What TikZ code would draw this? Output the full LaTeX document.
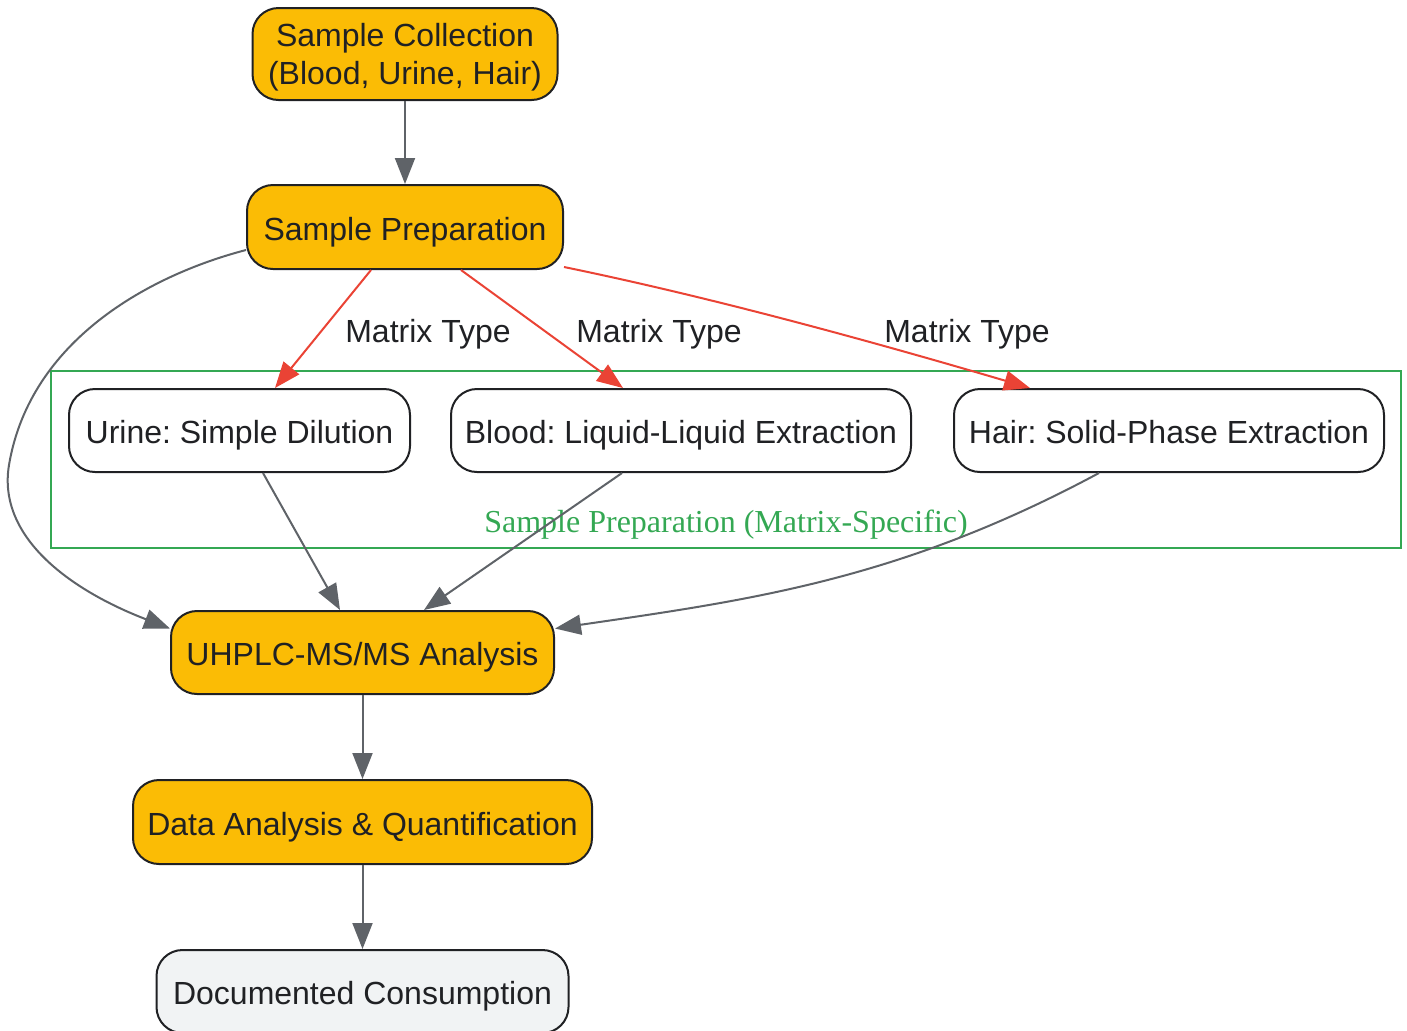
\documentclass[tikz,border=0pt]{standalone}
\usepackage{fontspec}
\setmainfont{Liberation Sans}
\newfontfamily\clusterfont{Liberation Serif}
\usetikzlibrary{arrows.meta,calc}
\definecolor{nodefill}{HTML}{FBBC05}
\definecolor{docfill}{HTML}{F1F3F4}
\definecolor{txt}{HTML}{202124}
\definecolor{edgegray}{HTML}{5F6368}
\definecolor{edgered}{HTML}{EA4335}
\definecolor{clgreen}{HTML}{34A853}
\tikzset{
  box/.style={draw=txt, line width=1pt, rounded corners=13pt, text=txt,
    font=\fontsize{16}{19}\selectfont\frenchspacing, align=center, inner sep=0pt,
    text height=15pt, text depth=2pt},
  mainbox/.style={box, fill=nodefill},
  subbox/.style={box, fill=white},
  docbox/.style={box, fill=docfill},
  flow/.style={draw=edgegray, line width=1pt, -{Triangle[length=13pt,width=10pt]}},
  redflow/.style={draw=edgered, line width=1pt, -{Triangle[length=13pt,width=10pt]}},
  elabel/.style={text=txt, font=\fontsize{16}{18}\selectfont, inner sep=0pt},
  cluster/.style={draw=clgreen, line width=1pt},
}
\begin{document}
\begin{tikzpicture}[x=0.5pt,y=-0.5pt]
\useasboundingbox (0,0) rectangle (1407,1030);
% cluster
\draw[cluster] (51,371) rectangle (1401,548);
\node[text=clgreen, font=\clusterfont\fontsize{16}{18}\selectfont, inner sep=0pt] (cllabel) at (726,525) {Sample Preparation (Matrix-Specific)};
% nodes
\node[mainbox, minimum width=152.5pt, minimum height=46pt, text height=, text depth=] (coll) at (405,54) {\rule{0pt}{15pt}Sample Collection\\(Blood, Urine, Hair)};
\node[mainbox, minimum width=158pt, minimum height=42pt] (prep) at (405,227) {Sample Preparation};
\node[subbox, minimum width=170.5pt, minimum height=41.5pt] (urine) at (239.5,430.5) {Urine: Simple Dilution};
\node[subbox, minimum width=230pt, minimum height=41.5pt] (blood) at (681,430.5) {Blood: Liquid-Liquid Extraction};
\node[subbox, minimum width=215pt, minimum height=41.5pt] (hair) at (1169,430.5) {Hair: Solid-Phase Extraction};
\node[mainbox, minimum width=191.5pt, minimum height=41.5pt] (uhplc) at (362.5,652.5) {UHPLC-MS/MS Analysis};
\node[mainbox, minimum width=229.5pt, minimum height=42pt] (data) at (362.5,822) {Data Analysis \& Quantification};
\node[docbox, minimum width=206pt, minimum height=41.5pt] (doc) at (362.5,991.5) {Documented Consumption};
% edge labels
\node[elabel] (l1) at (428,334) {Matrix Type};
\node[elabel] (l2) at (659,334) {Matrix Type};
\node[elabel] (l3) at (967,334) {Matrix Type};
% edges
\draw[flow] (coll.south) -- (prep.north);
\draw[redflow] ($(prep.south)+(-34,0)$) -- ($(urine.north)+(35.5,0)$);
\draw[redflow] ($(prep.south)+(56,0)$) -- ($(blood.north)+(-58,0)$);
\draw[redflow] ($(prep.south east)+(0,-3)$) .. controls (700,295) and (850,335) .. ($(hair.north)+(-139,0)$);
\draw[flow] ($(prep.west)+(0,23)$) .. controls (150,275) and (30,340) .. (9,465) .. controls (-3,537) and (70,590) .. ($(uhplc.west)+(0,-24)$);
\draw[flow] ($(urine.south)+(23.5,0)$) -- ($(uhplc.north)+(-22.5,0)$);
\draw[flow] ($(blood.south)+(-59,0)$) -- ($(uhplc.north)+(61.5,0)$);
\draw[flow] ($(hair.south)+(-70,0)$) .. controls (900,580) and (750,600) .. ($(uhplc.east)+(0,-24)$);
\draw[flow] (uhplc.south) -- (data.north);
\draw[flow] (data.south) -- (doc.north);
\end{tikzpicture}
\end{document}
